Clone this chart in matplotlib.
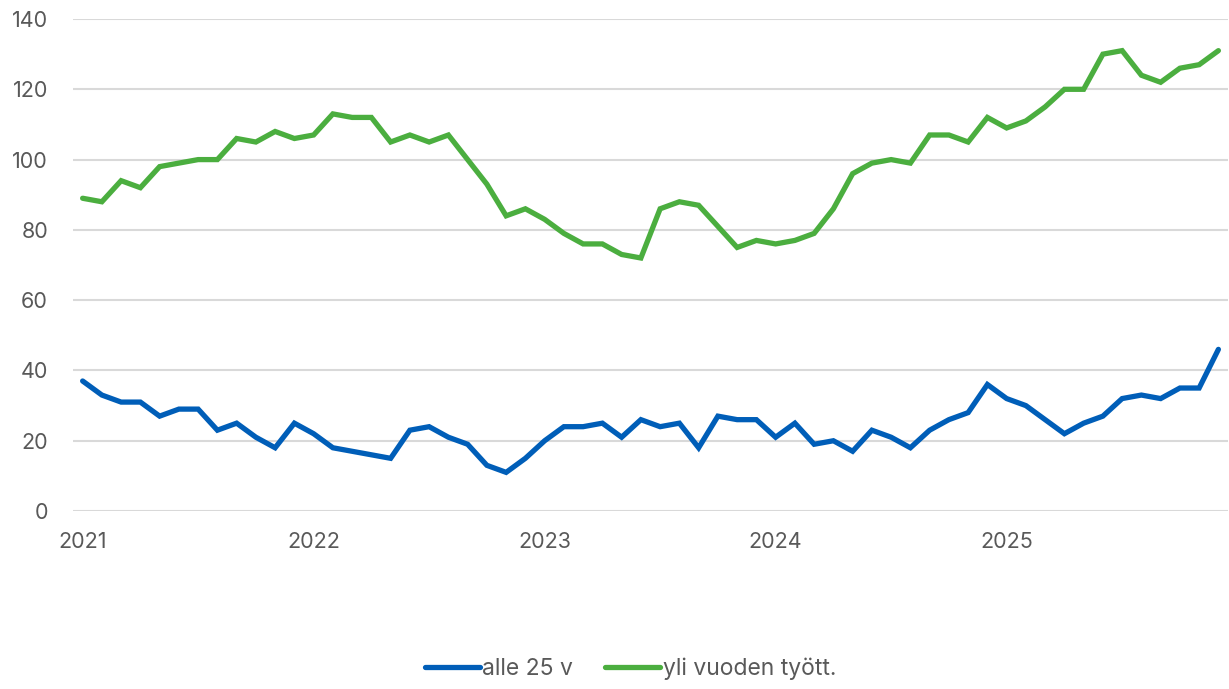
import matplotlib

matplotlib.use("Agg")
import matplotlib.pyplot as plt

# monthly series, Jan 2021 .. Dec 2025
years = ["2021", "2022", "2023", "2024", "2025"]
alle_25 = [
    37, 33, 31, 31, 27, 29, 29, 23, 25, 21, 18, 25,
    22, 18, 17, 16, 15, 23, 24, 21, 19, 13, 11, 15,
    20, 24, 24, 25, 21, 26, 24, 25, 18, 27, 26, 26,
    21, 25, 19, 20, 17, 23, 21, 18, 23, 26, 28, 36,
    32, 30, 26, 22, 25, 27, 32, 33, 32, 35, 35, 46,
]
yli_vuoden = [
    89, 88, 94, 92, 98, 99, 100, 100, 106, 105, 108, 106,
    107, 113, 112, 112, 105, 107, 105, 107, 100, 93, 84, 86,
    83, 79, 76, 76, 73, 72, 86, 88, 87, 81, 75, 77,
    76, 77, 79, 86, 96, 99, 100, 99, 107, 107, 105, 112,
    109, 111, 115, 120, 120, 130, 131, 124, 122, 126, 127, 131,
]
y_ticks = [0, 20, 40, 60, 80, 100, 120, 140]

plt.rcParams["font.family"] = ["Inter", "DejaVu Sans"]
text_color = "#595959"

fig = plt.figure(figsize=(12.29, 6.89), dpi=100)
ax = fig.add_axes([0.0594, 0.2583, 0.9398, 0.7141])

x = list(range(len(alle_25)))
ax.plot(x, alle_25, color="#005EB8", linewidth=3.8, solid_joinstyle="miter",
        solid_capstyle="round", label="alle 25 v", zorder=3)
ax.plot(x, yli_vuoden, color="#4BAE3F", linewidth=3.8, solid_joinstyle="miter",
        solid_capstyle="round", label="yli vuoden tyött.", zorder=3)

ax.set_xlim(-0.5, len(x) - 0.5)
ax.set_ylim(0, 140)
ax.set_yticks(y_ticks)
ax.set_xticks(range(0, len(x), 12))
ax.set_xticklabels(years)

for spine in ax.spines.values():
    spine.set_visible(False)
ax.grid(axis="y", color="#d9d9d9", linewidth=1.5, zorder=0)
ax.tick_params(axis="both", length=0, labelsize=15.5, colors=text_color)
ax.tick_params(axis="y", pad=18)
ax.tick_params(axis="x", pad=15)
ax.set_axisbelow(True)

leg = fig.legend(loc="center", bbox_to_anchor=(0.513, 0.029), ncol=2, frameon=False,
                 fontsize=16.5, handlelength=2.4, handletextpad=0.12, columnspacing=1.4)
for t in leg.get_texts():
    t.set_color(text_color)

fig.savefig("out.png", dpi=100)
